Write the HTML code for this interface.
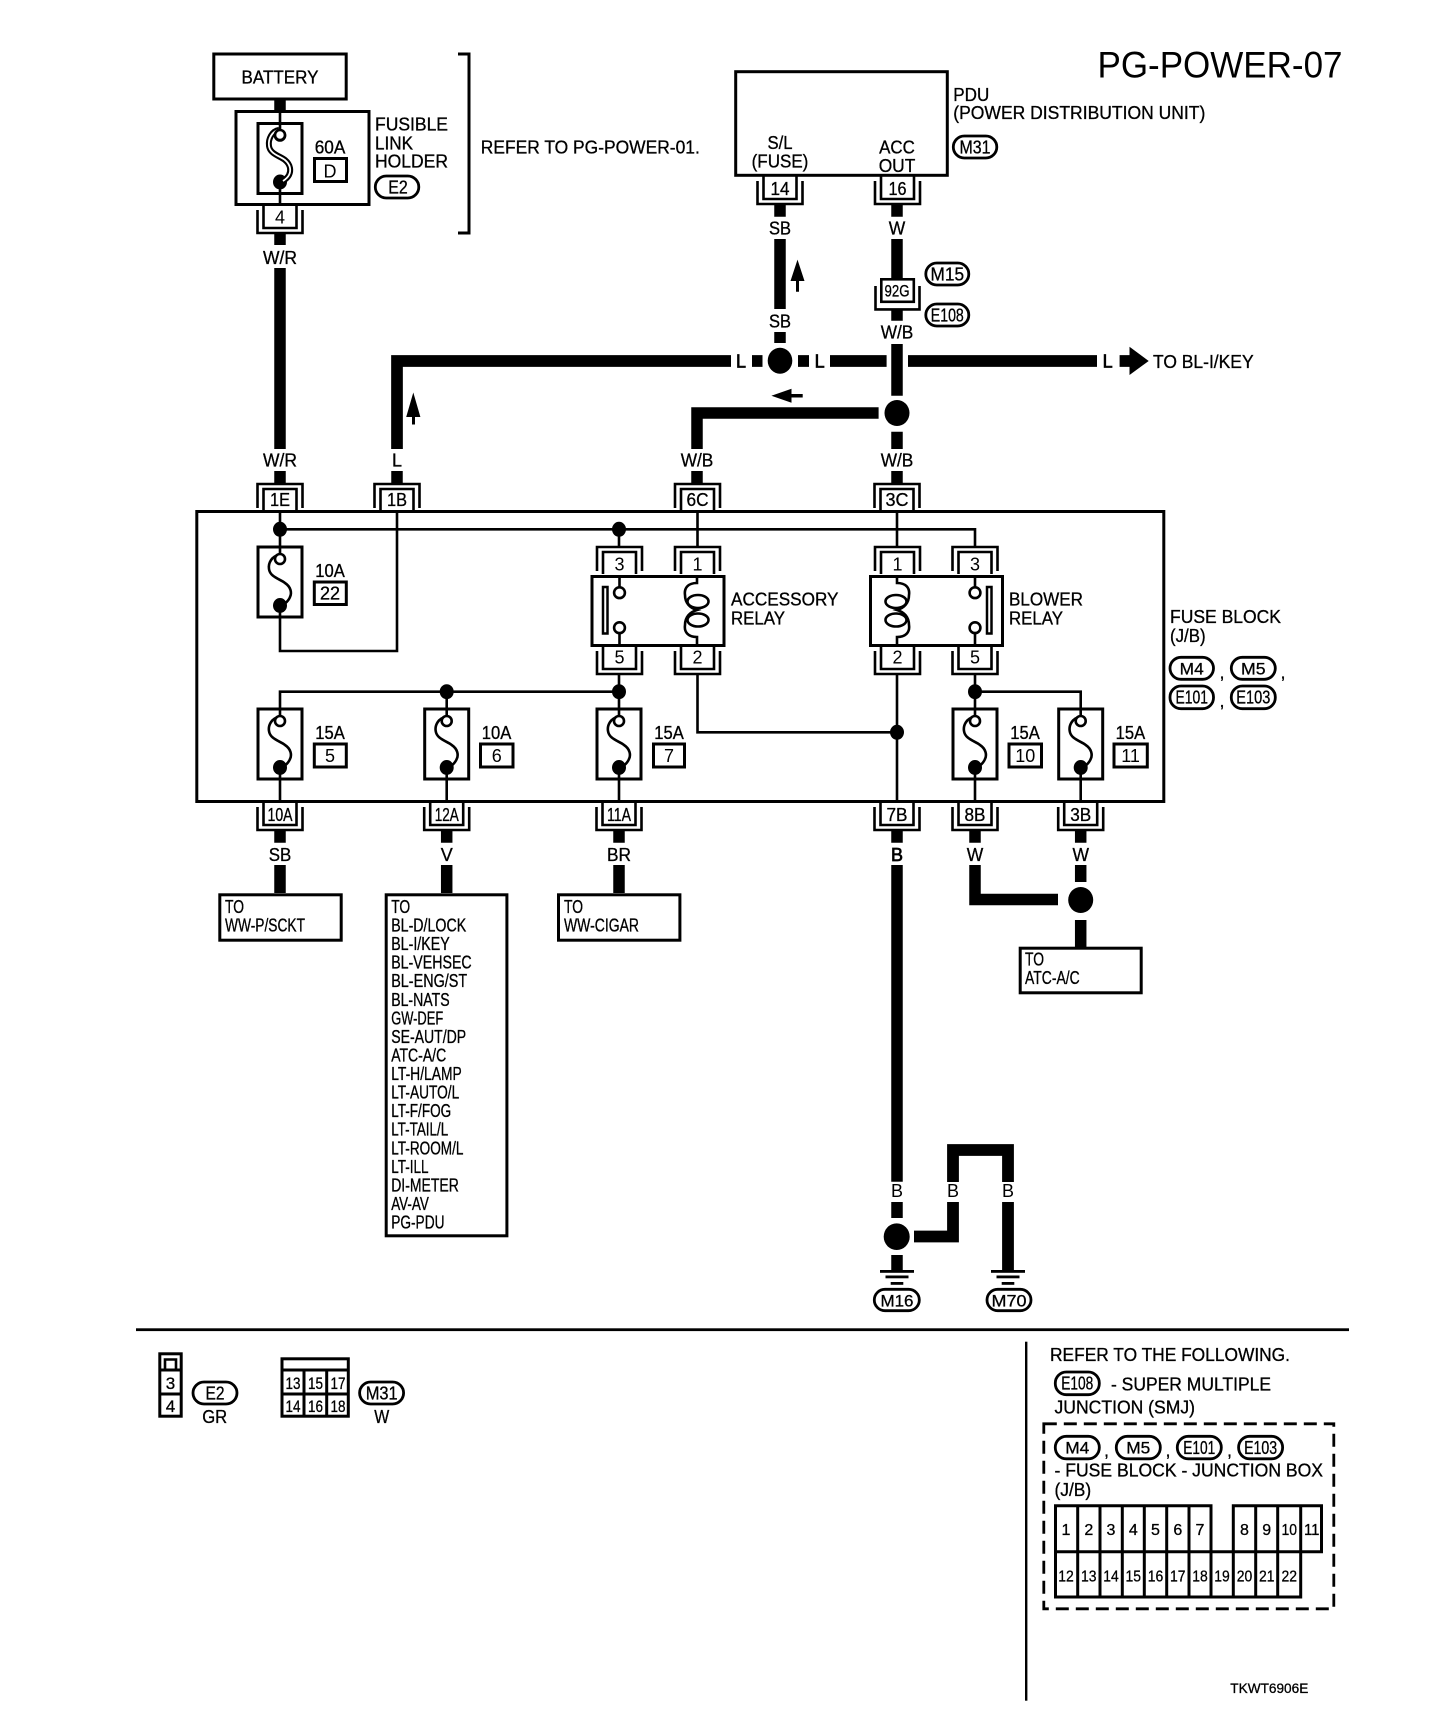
<!DOCTYPE html>
<html lang="en"><head><meta charset="utf-8"><title>PG-POWER-07</title>
<style>
html,body{margin:0;padding:0;background:#fff}
svg{display:block}
text{font-family:"Liberation Sans",sans-serif;font-size:18px;fill:#000;stroke:#000;stroke-width:.3}
.m{text-anchor:middle}
.s{font-size:16px}
.o{fill:none;stroke:#000;stroke-width:3}
.f{fill:#fff;stroke:#000;stroke-width:3}
.n{fill:none;stroke:#000;stroke-width:2.6}
.w{fill:none;stroke:#000;stroke-width:11.5}
.p{fill:#fff;stroke:#000;stroke-width:2.8}
.b{fill:#000;stroke:none}
.h{stroke-width:.7}
</style></head><body>
<svg xmlns="http://www.w3.org/2000/svg" width="1456" height="1730" viewBox="0 0 1456 1730">
<defs>
<g id="ct"><path class="n" d="M-22.5 24V0H22.5V24"/><path class="n" fill="#fff" d="M-16.5 27V5H16.5V27"/></g>
<g id="cb"><path class="n" d="M-22.5 5V28H22.5V5"/><path class="n" d="M-16.5 0V23H16.5V0"/></g>
<g id="fu"><rect class="f" x="-22" y="0" width="44" height="70"/><path class="n" d="M0 0V7M0 60V70"/><path class="n" d="M-1 8C-8 9-12 16-11 22C-10 30 0 32 5 36C11 40 12 46 10 50C9 53 5 57 2 59"/><circle cx="0" cy="12" r="5" fill="#fff" stroke="#000" stroke-width="2.6"/><ellipse class="b" cx="0" cy="58.5" rx="7" ry="7.5"/></g>
<g id="coil"><path class="n" d="M0 0V8C-9 8-13 13-12 20C-12 28-7 33 0 35C-7 37-12 42-12 50C-13 57-9 62 0 62V71"/><ellipse class="n" cx="1" cy="26.5" rx="10.5" ry="6.5"/><ellipse class="n" cx="1" cy="45" rx="10.5" ry="6.5"/></g>
<g id="gnd"><rect class="b" x="-17" y="0" width="34" height="2.8"/><rect class="b" x="-11.5" y="5.5" width="23" height="2.8"/><rect class="b" x="-6.3" y="12" width="12.6" height="2.8"/></g>
</defs>

<!-- Title -->
<text x="1097.5" y="77.7" style="font-size:37px;stroke:none" textLength="245" lengthAdjust="spacingAndGlyphs">PG-POWER-07</text>

<!-- Battery and fusible link -->
<rect class="o" x="213.8" y="54" width="132.4" height="45"/>
<text class="m" x="280" y="83.5" textLength="77" lengthAdjust="spacingAndGlyphs">BATTERY</text>
<path class="w" d="M280 100V111"/>
<rect class="o" x="236" y="111.5" width="133" height="93"/>
<use href="#fu" x="280" y="123.5"/>
<path class="n" d="M280 111V124M280 193V205"/>
<path fill="none" stroke="#000" stroke-width="6" d="M279 130C272 131 268 139 269 146C270 154 280 156 285 160C291 165 291 171 289 175C288 177 286 179 283 181"/>
<path fill="none" stroke="#fff" stroke-width="1.8" d="M279 130C272 131 268 139 269 146C270 154 280 156 285 160C291 165 291 171 289 175C288 177 286 179 283 181"/>
<circle cx="280" cy="135" r="5" fill="#fff" stroke="#000" stroke-width="2.6"/>
<text class="m" x="330" y="153.5" textLength="30.6" lengthAdjust="spacingAndGlyphs">60A</text>
<rect class="o" x="314.5" y="158.5" width="32" height="23"/>
<text class="m" x="330" y="177.5" style="stroke:none">D</text>
<text x="375" y="130.5" textLength="73" lengthAdjust="spacingAndGlyphs">FUSIBLE</text>
<text x="375" y="149.5" textLength="38" lengthAdjust="spacingAndGlyphs">LINK</text>
<text x="375" y="167.5" textLength="73" lengthAdjust="spacingAndGlyphs">HOLDER</text>
<rect class="p" x="375.3" y="176" width="43.5" height="22" rx="11"/>
<text class="m" x="398" y="193.5" textLength="19.5" lengthAdjust="spacingAndGlyphs">E2</text>
<use href="#cb" x="280" y="205"/>
<text class="m" x="280" y="223.5" style="stroke:none">4</text>
<path class="w" d="M280 234V245M280 268V449M280 471V483"/>
<text class="m" x="280" y="264" textLength="34" lengthAdjust="spacingAndGlyphs">W/R</text>
<text class="m" x="280" y="466.5" textLength="34" lengthAdjust="spacingAndGlyphs">W/R</text>

<path class="o" d="M458 54H469V233H458"/>
<text x="480.8" y="153.5" textLength="219" lengthAdjust="spacingAndGlyphs">REFER TO PG-POWER-01.</text>

<!-- PDU -->
<rect class="o" x="735.7" y="71.7" width="211.6" height="103.6"/>
<text x="953.3" y="101" textLength="36" lengthAdjust="spacingAndGlyphs">PDU</text>
<text x="953.3" y="119" textLength="252" lengthAdjust="spacingAndGlyphs">(POWER DISTRIBUTION UNIT)</text>
<rect class="p" x="953.3" y="136" width="43.5" height="22" rx="11"/>
<text class="m" x="975" y="153.5" textLength="31" lengthAdjust="spacingAndGlyphs">M31</text>
<text class="m" x="780" y="149" textLength="25" lengthAdjust="spacingAndGlyphs">S/L</text>
<text class="m" x="780" y="167.5" textLength="56.7" lengthAdjust="spacingAndGlyphs">(FUSE)</text>
<text class="m" x="897" y="153.5" textLength="35.7" lengthAdjust="spacingAndGlyphs">ACC</text>
<text class="m" x="897" y="172" textLength="36.6" lengthAdjust="spacingAndGlyphs">OUT</text>
<use href="#cb" x="780" y="176"/>
<use href="#cb" x="897.5" y="176"/>
<text class="m" x="780" y="195" textLength="19" lengthAdjust="spacingAndGlyphs">14</text>
<text class="m" x="897.5" y="195" textLength="18" lengthAdjust="spacingAndGlyphs">16</text>
<path class="w" d="M780 205V216.7M780 239V309M780 332V343M897 205V216.7M897 239V278M897 310V320.7M897 344V395.7M897 431.7V449M897 471V483"/>
<text class="m" x="780" y="234.5" textLength="22" lengthAdjust="spacingAndGlyphs">SB</text>
<text class="m" x="897" y="234.5" textLength="16.5" lengthAdjust="spacingAndGlyphs">W</text>
<text class="m" x="780" y="327.5" textLength="22" lengthAdjust="spacingAndGlyphs">SB</text>
<text class="m" x="897" y="338.5" textLength="32.6" lengthAdjust="spacingAndGlyphs">W/B</text>
<text class="m" x="897" y="466.5" textLength="32.6" lengthAdjust="spacingAndGlyphs">W/B</text>
<path class="b" d="M797.5 259.6L804.5 281H799V291.7H796V281H790.5Z"/>
<rect class="f" x="881.3" y="279.3" width="32.5" height="22.5" style="stroke-width:2.6"/>
<path class="n" d="M875.5 286V309.4H919.5V286"/>
<text class="m" x="897" y="296.5" style="font-size:17px" textLength="25" lengthAdjust="spacingAndGlyphs">92G</text>
<rect class="p" x="925.8" y="263" width="43" height="22" rx="11"/>
<text class="m" x="947.3" y="280.5" textLength="33.5" lengthAdjust="spacingAndGlyphs">M15</text>
<rect class="p" x="925.8" y="304" width="43" height="22" rx="11"/>
<text class="m" x="947.3" y="321.5" textLength="33" lengthAdjust="spacingAndGlyphs">E108</text>

<!-- L bus -->
<path class="w" d="M397 449V361H731M752 361H762.5M798 361H809M830 361H886.6M908 361H1097M1119.6 361H1130" style="stroke-width:11.7"/>
<text class="m h" x="741" y="367.5">L</text>
<text class="m h" x="819.6" y="367.5">L</text>
<text class="m h" x="1107.6" y="367.5">L</text>
<path class="b" d="M1129.5 346.7L1148.7 361L1129.5 375Z"/>
<text x="1153" y="368" textLength="100.6" lengthAdjust="spacingAndGlyphs">TO BL-I/KEY</text>
<ellipse class="b" cx="780" cy="360.7" rx="12.3" ry="13"/>
<!-- arrow beside L vertical -->
<path class="b" d="M413.3 392.5L420.4 417H415V424.5H412V417H406.2Z"/>
<!-- W/B branch -->
<path class="w" d="M697 449V413H878.6"/>
<path class="b" d="M771.4 395.7L791.5 388.7V394H802.7V397.5H791.5V402.7Z"/>
<ellipse class="b" cx="897" cy="413" rx="12.5" ry="13"/>
<text class="m" x="397" y="466.5">L</text>
<text class="m" x="697" y="466.5" textLength="32.6" lengthAdjust="spacingAndGlyphs">W/B</text>
<path class="w" d="M397 471V483M697 471V483"/>

<!-- Fuse block -->
<rect class="o" x="196.8" y="511.5" width="967" height="290"/>
<use href="#ct" x="280" y="484"/>
<use href="#ct" x="397" y="484"/>
<use href="#ct" x="697.5" y="484"/>
<use href="#ct" x="897" y="484"/>
<text class="m" x="280" y="506" textLength="20" lengthAdjust="spacingAndGlyphs">1E</text>
<text class="m" x="397" y="506" textLength="20" lengthAdjust="spacingAndGlyphs">1B</text>
<text class="m" x="697.5" y="506" textLength="22" lengthAdjust="spacingAndGlyphs">6C</text>
<text class="m" x="897" y="506" textLength="23" lengthAdjust="spacingAndGlyphs">3C</text>

<path class="n" d="M280 512V547M280 529.3H975V547M397 512V651H280V615M619 529.3V547M697.5 512V547M897 512V547"/>
<ellipse class="b" cx="280" cy="529.3" rx="7" ry="7.5"/>
<ellipse class="b" cx="619" cy="529.3" rx="7" ry="7.5"/>
<use href="#fu" x="280" y="547"/>
<text class="m" x="330" y="577" textLength="29.5" lengthAdjust="spacingAndGlyphs">10A</text>
<rect class="o" x="314.3" y="582" width="32" height="22.5"/>
<text class="m" x="330" y="599.5">22</text>

<!-- Accessory relay -->
<use href="#ct" x="619.5" y="547"/>
<use href="#ct" x="697.5" y="547"/>
<rect class="f" x="592" y="576.5" width="132" height="69"/>
<text class="m" x="619.5" y="570.5" style="stroke:none">3</text>
<text class="m" x="697.5" y="570.5" style="stroke:none">1</text>
<rect fill="#fff" stroke="#000" stroke-width="2.5" x="603" y="587" width="4.5" height="46.5"/>
<path class="n" d="M619.5 575V587M619.5 633V646"/>
<circle cx="619.5" cy="592.7" r="5.4" fill="#fff" stroke="#000" stroke-width="2.6"/>
<circle cx="619.5" cy="627.7" r="5.4" fill="#fff" stroke="#000" stroke-width="2.6"/>
<use href="#coil" x="697" y="575"/>
<text x="731" y="605.5" textLength="107.5" lengthAdjust="spacingAndGlyphs">ACCESSORY</text>
<text x="731" y="624.5" textLength="54" lengthAdjust="spacingAndGlyphs">RELAY</text>
<use href="#cb" x="619.5" y="646"/>
<use href="#cb" x="697.5" y="646"/>
<text class="m" x="619.5" y="663.5" style="stroke:none">5</text>
<text class="m" x="697.5" y="663.5" style="stroke:none">2</text>

<!-- Blower relay -->
<use href="#ct" x="897.5" y="547"/>
<use href="#ct" x="975" y="547"/>
<rect class="f" x="870.5" y="576.5" width="132" height="69"/>
<text class="m" x="897.5" y="570.5" style="stroke:none">1</text>
<text class="m" x="975" y="570.5" style="stroke:none">3</text>
<rect fill="#fff" stroke="#000" stroke-width="2.5" x="987" y="587" width="4.5" height="46.5"/>
<path class="n" d="M975 575V587M975 633V646"/>
<circle cx="975" cy="592.7" r="5.4" fill="#fff" stroke="#000" stroke-width="2.6"/>
<circle cx="975" cy="627.7" r="5.4" fill="#fff" stroke="#000" stroke-width="2.6"/>
<use href="#coil" transform="translate(897 575) scale(-1 1)"/>
<text x="1009" y="605.5" textLength="74" lengthAdjust="spacingAndGlyphs">BLOWER</text>
<text x="1009" y="624.5" textLength="54" lengthAdjust="spacingAndGlyphs">RELAY</text>
<use href="#cb" x="897.5" y="646"/>
<use href="#cb" x="975" y="646"/>
<text class="m" x="897.5" y="663.5" style="stroke:none">2</text>
<text class="m" x="975" y="663.5" style="stroke:none">5</text>

<text x="1170" y="623" textLength="111" lengthAdjust="spacingAndGlyphs">FUSE BLOCK</text>
<text x="1170" y="642" textLength="35.6" lengthAdjust="spacingAndGlyphs">(J/B)</text>
<rect class="p" x="1170" y="657.3" width="43.5" height="22" rx="11"/>
<text class="m" x="1191.7" y="674.5" style="font-size:17px" textLength="24" lengthAdjust="spacingAndGlyphs">M4</text>
<text x="1219.5" y="678.5">,</text>
<rect class="p" x="1231.3" y="657.3" width="44" height="22" rx="11"/>
<text class="m" x="1253.3" y="674.5" style="font-size:17px" textLength="24.5" lengthAdjust="spacingAndGlyphs">M5</text>
<text x="1280.5" y="678.5">,</text>
<rect class="p" x="1170" y="686" width="43.5" height="22.7" rx="11"/>
<text class="m" x="1191.7" y="703.5" textLength="32.5" lengthAdjust="spacingAndGlyphs">E101</text>
<text x="1219.5" y="707">,</text>
<rect class="p" x="1231.3" y="686" width="44" height="22.7" rx="11"/>
<text class="m" x="1253.3" y="703.5" textLength="34" lengthAdjust="spacingAndGlyphs">E103</text>

<!-- Lower fuse row -->
<path class="n" d="M280 709V691.7H619M446.7 691.7V709M619 674V709M975 674V709M975 691.7H1080.7V709M697.5 674V732.3H897M897 674V802M280 779V802M446.7 779V802M619 779V802M975 779V802M1080.7 779V802"/>
<ellipse class="b" cx="446.7" cy="691.7" rx="7" ry="7.5"/>
<ellipse class="b" cx="619" cy="691.7" rx="7" ry="7.5"/>
<ellipse class="b" cx="975" cy="691.7" rx="7" ry="7.5"/>
<ellipse class="b" cx="897" cy="732.3" rx="7" ry="7.5"/>
<use href="#fu" x="280" y="709"/>
<use href="#fu" x="446.7" y="709"/>
<use href="#fu" x="619" y="709"/>
<use href="#fu" x="975" y="709"/>
<use href="#fu" x="1080.7" y="709"/>

<text class="m" x="330" y="739" textLength="29.5" lengthAdjust="spacingAndGlyphs">15A</text>
<rect class="o" x="314.3" y="744" width="32" height="23"/>
<text class="m" x="330" y="762" style="stroke:none">5</text>
<text class="m" x="496.5" y="739" textLength="29.5" lengthAdjust="spacingAndGlyphs">10A</text>
<rect class="o" x="480.5" y="744" width="32.5" height="23"/>
<text class="m" x="496.7" y="762" style="stroke:none">6</text>
<text class="m" x="669" y="739" textLength="29.5" lengthAdjust="spacingAndGlyphs">15A</text>
<rect class="o" x="653.5" y="744" width="31" height="23"/>
<text class="m" x="669" y="762" style="stroke:none">7</text>
<text class="m" x="1025" y="739" textLength="29.5" lengthAdjust="spacingAndGlyphs">15A</text>
<rect class="o" x="1009" y="744" width="32.5" height="23"/>
<text class="m" x="1025.3" y="762" style="stroke:none">10</text>
<text class="m" x="1130.4" y="739" textLength="29.5" lengthAdjust="spacingAndGlyphs">15A</text>
<rect class="o" x="1114" y="744" width="33.3" height="23"/>
<text class="m" x="1130.6" y="762" style="stroke:none">11</text>

<!-- Bottom connectors -->
<use href="#cb" x="280" y="802"/>
<use href="#cb" x="446.7" y="802"/>
<use href="#cb" x="619" y="802"/>
<use href="#cb" x="897" y="802"/>
<use href="#cb" x="975" y="802"/>
<use href="#cb" x="1080.7" y="802"/>
<text class="m" x="280" y="821" textLength="25" lengthAdjust="spacingAndGlyphs">10A</text>
<text class="m" x="446.7" y="821" textLength="24" lengthAdjust="spacingAndGlyphs">12A</text>
<text class="m" x="619" y="821" textLength="24" lengthAdjust="spacingAndGlyphs">11A</text>
<text class="m" x="897" y="821" textLength="21" lengthAdjust="spacingAndGlyphs">7B</text>
<text class="m" x="975" y="821" textLength="21" lengthAdjust="spacingAndGlyphs">8B</text>
<text class="m" x="1080.7" y="821" textLength="21" lengthAdjust="spacingAndGlyphs">3B</text>

<path class="w" d="M280 831V842.7M280 865V893M446.7 831V842.7M446.7 865V893M619 831V842.7M619 865V893M897 831V842.7M897 865V1181.7M897 1202V1218M897 1255V1271M975 831V842.7M975 865V899.5H1058M1080.7 831V842.7M1080.7 865V882M1080.7 920V947"/>
<text class="m" x="280" y="861" textLength="22.5" lengthAdjust="spacingAndGlyphs">SB</text>
<text class="m" x="446.7" y="861">V</text>
<text class="m" x="619" y="861" textLength="24" lengthAdjust="spacingAndGlyphs">BR</text>
<text class="m h" x="897" y="861">B</text>
<text class="m" x="975" y="861" textLength="16.5" lengthAdjust="spacingAndGlyphs">W</text>
<text class="m" x="1080.7" y="861" textLength="16.5" lengthAdjust="spacingAndGlyphs">W</text>
<ellipse class="b" cx="1080.7" cy="900" rx="12.5" ry="13"/>

<!-- Destination boxes -->
<rect class="o" x="219.8" y="894.8" width="121.4" height="45.4"/>
<text x="225" y="913" textLength="19" lengthAdjust="spacingAndGlyphs">TO</text>
<text x="225" y="931.5" textLength="80" lengthAdjust="spacingAndGlyphs">WW-P/SCKT</text>
<rect class="o" x="558.5" y="894.8" width="121.4" height="45.4"/>
<text x="564" y="913" textLength="19" lengthAdjust="spacingAndGlyphs">TO</text>
<text x="564" y="931.5" textLength="75" lengthAdjust="spacingAndGlyphs">WW-CIGAR</text>
<rect class="o" x="1020.2" y="948.2" width="121" height="44.6"/>
<text x="1025" y="965.5" textLength="19" lengthAdjust="spacingAndGlyphs">TO</text>
<text x="1025" y="984" textLength="54.7" lengthAdjust="spacingAndGlyphs">ATC-A/C</text>
<rect class="o" x="386.2" y="894.8" width="120.7" height="341"/>
<text x="391.2" y="913" textLength="19" lengthAdjust="spacingAndGlyphs">TO</text>
<text x="391.2" y="931.6" textLength="75" lengthAdjust="spacingAndGlyphs">BL-D/LOCK</text>
<text x="391.2" y="950.1" textLength="58.5" lengthAdjust="spacingAndGlyphs">BL-I/KEY</text>
<text x="391.2" y="968.7" textLength="80.5" lengthAdjust="spacingAndGlyphs">BL-VEHSEC</text>
<text x="391.2" y="987.2" textLength="76" lengthAdjust="spacingAndGlyphs">BL-ENG/ST</text>
<text x="391.2" y="1005.8" textLength="58.5" lengthAdjust="spacingAndGlyphs">BL-NATS</text>
<text x="391.2" y="1024.4" textLength="52" lengthAdjust="spacingAndGlyphs">GW-DEF</text>
<text x="391.2" y="1042.9" textLength="75" lengthAdjust="spacingAndGlyphs">SE-AUT/DP</text>
<text x="391.2" y="1061.5" textLength="55" lengthAdjust="spacingAndGlyphs">ATC-A/C</text>
<text x="391.2" y="1080" textLength="70.6" lengthAdjust="spacingAndGlyphs">LT-H/LAMP</text>
<text x="391.2" y="1098.6" textLength="68" lengthAdjust="spacingAndGlyphs">LT-AUTO/L</text>
<text x="391.2" y="1117.2" textLength="60" lengthAdjust="spacingAndGlyphs">LT-F/FOG</text>
<text x="391.2" y="1135.7" textLength="57" lengthAdjust="spacingAndGlyphs">LT-TAIL/L</text>
<text x="391.2" y="1154.3" textLength="72.3" lengthAdjust="spacingAndGlyphs">LT-ROOM/L</text>
<text x="391.2" y="1172.8" textLength="37.3" lengthAdjust="spacingAndGlyphs">LT-ILL</text>
<text x="391.2" y="1191.4" textLength="67.7" lengthAdjust="spacingAndGlyphs">DI-METER</text>
<text x="391.2" y="1210" textLength="37.7" lengthAdjust="spacingAndGlyphs">AV-AV</text>
<text x="391.2" y="1228.5" textLength="53.3" lengthAdjust="spacingAndGlyphs">PG-PDU</text>

<!-- Ground -->
<path class="w" d="M953 1182V1150H1008V1182M1008 1202V1271M953 1202V1236.5H914" style="stroke-width:11.8"/>
<ellipse class="b" cx="896.7" cy="1236.7" rx="13" ry="13.3"/>
<text class="m" x="897" y="1197.2" style="stroke:none">B</text>
<text class="m" x="953" y="1197.2" style="stroke:none">B</text>
<text class="m" x="1008" y="1197.2" style="stroke:none">B</text>
<use href="#gnd" x="897" y="1270"/>
<use href="#gnd" x="1008" y="1270"/>
<rect class="p" x="874.3" y="1289.3" width="45" height="21.4" rx="10.7"/>
<text class="m" x="897" y="1306.5" style="font-size:17px" textLength="33" lengthAdjust="spacingAndGlyphs">M16</text>
<rect class="p" x="987" y="1289.3" width="44" height="21.4" rx="10.7"/>
<text class="m" x="1009" y="1306.5" style="font-size:17px" textLength="35" lengthAdjust="spacingAndGlyphs">M70</text>

<!-- Dividers -->
<rect class="b" x="136" y="1328.3" width="1213" height="2.8"/>
<rect class="b" x="1025" y="1341.7" width="2.4" height="359"/>

<!-- Legend connectors -->
<rect class="o" x="159.8" y="1353.8" width="21.4" height="62.4"/>
<path class="o" d="M160 1370H181M160 1394H181"/>
<path class="n" d="M165 1370V1359.5H176V1370"/>
<text class="m" x="170.5" y="1389" style="font-size:17px">3</text>
<text class="m" x="170.5" y="1412" style="font-size:17px">4</text>
<rect class="p" x="193" y="1382" width="44" height="22" rx="11"/>
<text class="m" x="215" y="1399.5" textLength="19" lengthAdjust="spacingAndGlyphs">E2</text>
<text class="m" x="214.7" y="1423" textLength="25" lengthAdjust="spacingAndGlyphs">GR</text>
<rect class="o" x="282" y="1358.8" width="66.3" height="57.4"/>
<path class="o" d="M282 1370H349M282 1394H349M304 1370V1416M326.7 1370V1416"/>
<text class="m" x="293" y="1389" style="font-size:17px" textLength="15" lengthAdjust="spacingAndGlyphs">13</text>
<text class="m" x="315.5" y="1389" style="font-size:17px" textLength="15" lengthAdjust="spacingAndGlyphs">15</text>
<text class="m" x="338" y="1389" style="font-size:17px" textLength="15" lengthAdjust="spacingAndGlyphs">17</text>
<text class="m" x="293" y="1412" style="font-size:17px" textLength="15" lengthAdjust="spacingAndGlyphs">14</text>
<text class="m" x="315.5" y="1412" style="font-size:17px" textLength="15" lengthAdjust="spacingAndGlyphs">16</text>
<text class="m" x="338" y="1412" style="font-size:17px" textLength="15" lengthAdjust="spacingAndGlyphs">18</text>
<rect class="p" x="359.6" y="1382" width="44" height="22" rx="11"/>
<text class="m" x="381.7" y="1399.5" textLength="32" lengthAdjust="spacingAndGlyphs">M31</text>
<text class="m" x="381.7" y="1423" textLength="15" lengthAdjust="spacingAndGlyphs">W</text>

<!-- Refer panel -->
<text x="1050" y="1361" textLength="240" lengthAdjust="spacingAndGlyphs">REFER TO THE FOLLOWING.</text>
<rect class="p" x="1055.3" y="1372" width="44" height="22.7" rx="11"/>
<text class="m" x="1077.3" y="1389.5" textLength="32" lengthAdjust="spacingAndGlyphs">E108</text>
<text x="1111" y="1390.5" textLength="160" lengthAdjust="spacingAndGlyphs">- SUPER MULTIPLE</text>
<text x="1054.5" y="1413.5" textLength="140.5" lengthAdjust="spacingAndGlyphs">JUNCTION (SMJ)</text>
<rect x="1043.8" y="1423.8" width="290" height="185" fill="none" stroke="#000" stroke-width="2.8" stroke-dasharray="13 7"/>
<rect class="p" x="1055.3" y="1436.3" width="44" height="22.5" rx="11"/>
<text class="m" x="1077.3" y="1453.5" style="font-size:17px" textLength="24" lengthAdjust="spacingAndGlyphs">M4</text>
<text x="1104" y="1456.5">,</text>
<rect class="p" x="1116.3" y="1436.3" width="44" height="22.5" rx="11"/>
<text class="m" x="1138.3" y="1453.5" style="font-size:17px" textLength="24" lengthAdjust="spacingAndGlyphs">M5</text>
<text x="1165.5" y="1456.5">,</text>
<rect class="p" x="1177.3" y="1436.3" width="44" height="22.5" rx="11"/>
<text class="m" x="1199.3" y="1454" textLength="32" lengthAdjust="spacingAndGlyphs">E101</text>
<text x="1227" y="1456.5">,</text>
<rect class="p" x="1238.6" y="1436.3" width="44" height="22.5" rx="11"/>
<text class="m" x="1260.6" y="1454" textLength="33" lengthAdjust="spacingAndGlyphs">E103</text>
<text x="1054.5" y="1476.5" textLength="268.5" lengthAdjust="spacingAndGlyphs">- FUSE BLOCK - JUNCTION BOX</text>
<text x="1054.5" y="1496" textLength="36.7" lengthAdjust="spacingAndGlyphs">(J/B)</text>

<!-- Fuse grid -->
<path class="o" d="M1055.5 1551.7V1505.8H1211V1551.7M1233.3 1551.7V1505.8H1321.5V1551.7H1055.5V1597H1300.7V1551.7M1077.7 1505.8V1597M1100 1505.8V1597M1122.3 1505.8V1597M1144.3 1505.8V1597M1166.7 1505.8V1597M1189 1505.8V1597M1211 1551.7V1597M1233.3 1551.7V1597M1255.7 1505.8V1597M1277.7 1505.8V1597M1300.7 1505.8V1551.7"/>
<g>
<text class="m s" x="1066" y="1535">1</text><text class="m s" x="1088.8" y="1535">2</text><text class="m s" x="1111" y="1535">3</text><text class="m s" x="1133.3" y="1535">4</text><text class="m s" x="1155.5" y="1535">5</text><text class="m s" x="1177.8" y="1535">6</text><text class="m s" x="1200" y="1535">7</text><text class="m s" x="1244.5" y="1535">8</text><text class="m s" x="1266.7" y="1535">9</text>
<text class="m s" x="1289.2" y="1535" textLength="15.5" lengthAdjust="spacingAndGlyphs">10</text><text class="m s" x="1311.7" y="1535" textLength="15.5" lengthAdjust="spacingAndGlyphs">11</text>
<text class="m s" x="1066" y="1581.5" textLength="15.5" lengthAdjust="spacingAndGlyphs">12</text><text class="m s" x="1088.8" y="1581.5" textLength="15.5" lengthAdjust="spacingAndGlyphs">13</text><text class="m s" x="1111" y="1581.5" textLength="15.5" lengthAdjust="spacingAndGlyphs">14</text><text class="m s" x="1133.3" y="1581.5" textLength="15.5" lengthAdjust="spacingAndGlyphs">15</text><text class="m s" x="1155.5" y="1581.5" textLength="15.5" lengthAdjust="spacingAndGlyphs">16</text><text class="m s" x="1177.8" y="1581.5" textLength="15.5" lengthAdjust="spacingAndGlyphs">17</text><text class="m s" x="1200" y="1581.5" textLength="15.5" lengthAdjust="spacingAndGlyphs">18</text><text class="m s" x="1222" y="1581.5" textLength="15.5" lengthAdjust="spacingAndGlyphs">19</text><text class="m s" x="1244.5" y="1581.5" textLength="15.5" lengthAdjust="spacingAndGlyphs">20</text><text class="m s" x="1266.7" y="1581.5" textLength="15.5" lengthAdjust="spacingAndGlyphs">21</text><text class="m s" x="1289.2" y="1581.5" textLength="15.5" lengthAdjust="spacingAndGlyphs">22</text>
</g>
<text x="1230.3" y="1693" style="font-size:14px" textLength="78" lengthAdjust="spacingAndGlyphs">TKWT6906E</text>
</svg>
</body></html>
